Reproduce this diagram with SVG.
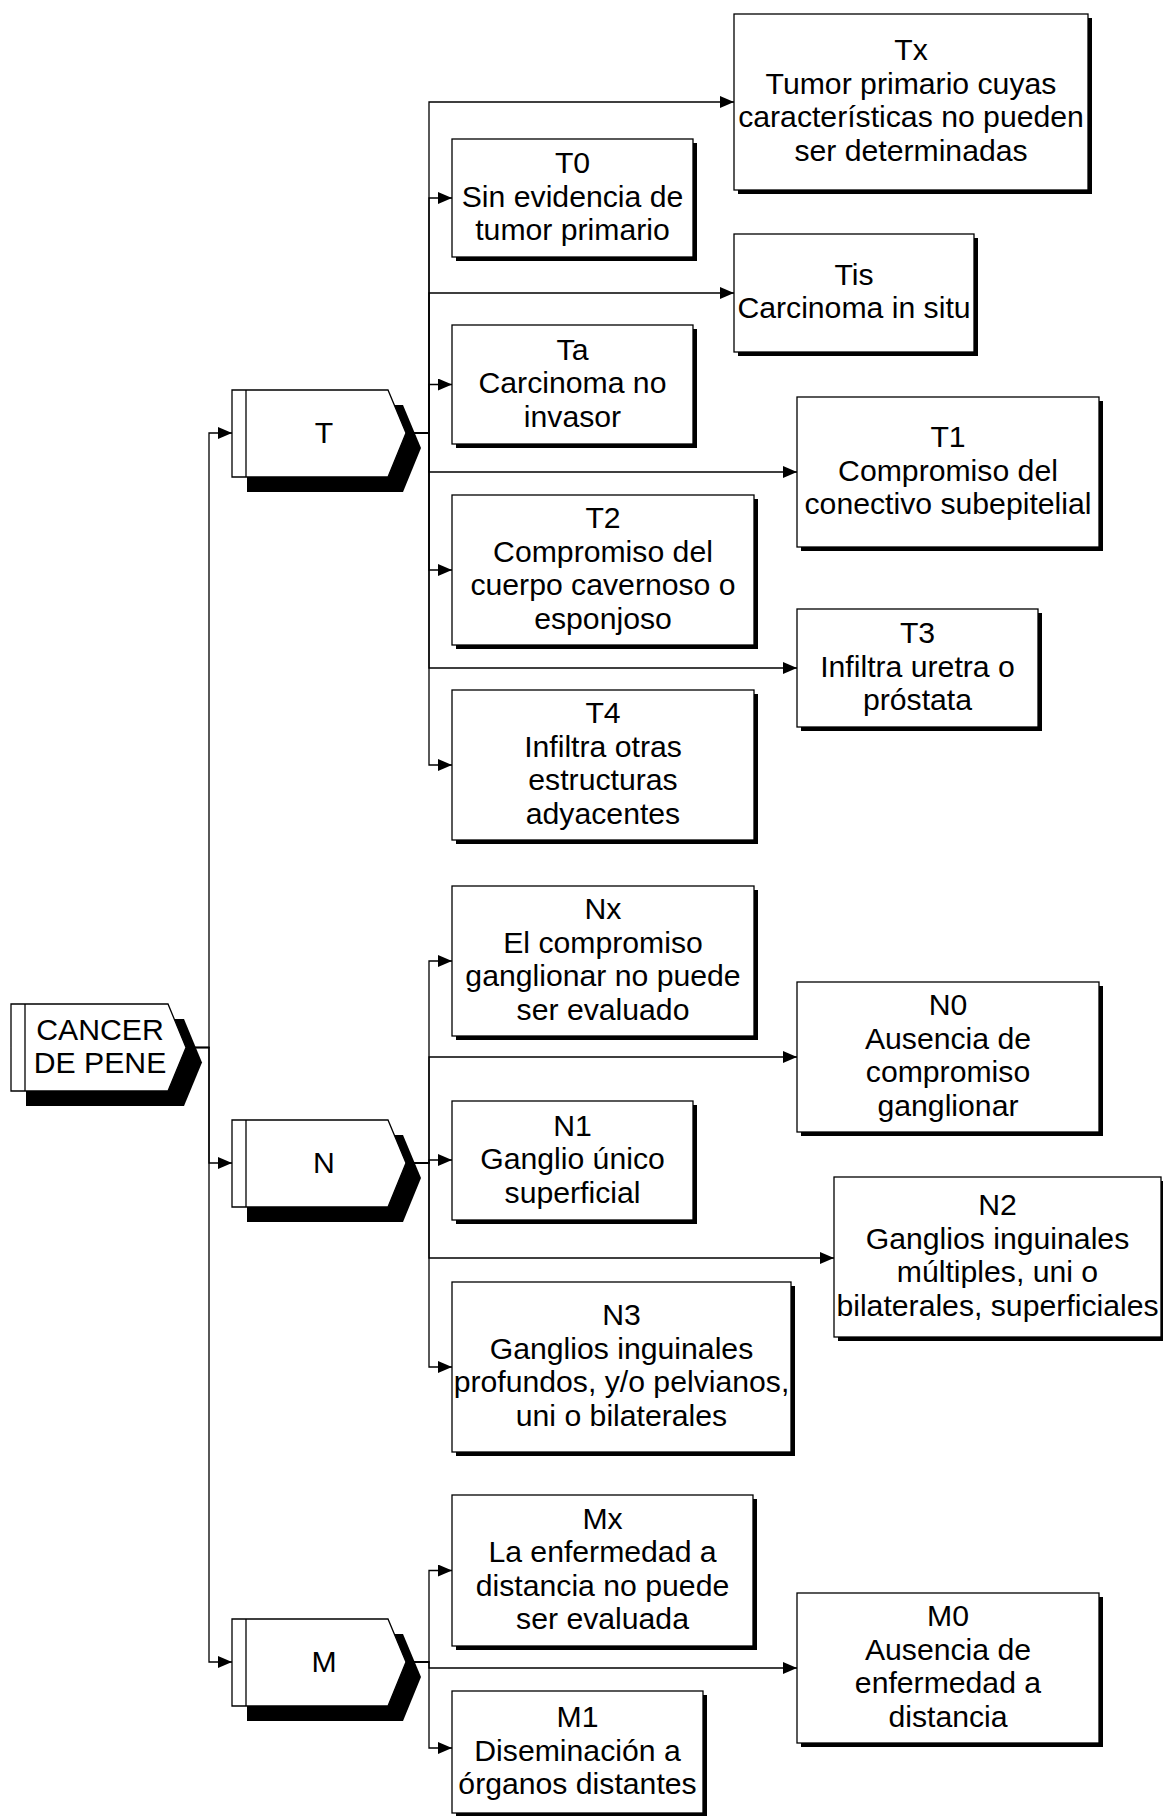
<svg xmlns="http://www.w3.org/2000/svg" width="1163" height="1816" viewBox="0 0 1163 1816">
<style>
.conn{fill:none;stroke:#000;stroke-width:1.3}
.box{fill:#fff;stroke:#000;stroke-width:1.3}
.shadow{fill:#000;stroke:none}
.chev{fill:#fff;stroke:#000;stroke-width:1.3}
.inner{stroke:#000;stroke-width:1.3}
text{font-family:"Liberation Sans",Arial,sans-serif;font-size:30.2px;fill:#000;text-anchor:middle}
</style>
<defs>
<marker id="arr" markerUnits="userSpaceOnUse" markerWidth="15" markerHeight="12" refX="14" refY="6" orient="auto">
<path d="M0,0 L14,6 L0,12 Z" fill="#000"/>
</marker>
</defs>
<rect width="1163" height="1816" fill="#fff"/>
<g id="connectors">
<path class="conn" d="M186,1047.5 H209 V433 H232" marker-end="url(#arr)"/>
<path class="conn" d="M186,1047.5 H209 V1163 H232" marker-end="url(#arr)"/>
<path class="conn" d="M186,1047.5 H209 V1662 H232" marker-end="url(#arr)"/>
<path class="conn" d="M406,433 H429 V102 H734" marker-end="url(#arr)"/>
<path class="conn" d="M406,433 H429 V198 H452" marker-end="url(#arr)"/>
<path class="conn" d="M406,433 H429 V293 H734" marker-end="url(#arr)"/>
<path class="conn" d="M406,433 H429 V384.5 H452" marker-end="url(#arr)"/>
<path class="conn" d="M406,433 H429 V472 H797" marker-end="url(#arr)"/>
<path class="conn" d="M406,433 H429 V570 H452" marker-end="url(#arr)"/>
<path class="conn" d="M406,433 H429 V668 H797" marker-end="url(#arr)"/>
<path class="conn" d="M406,433 H429 V765 H452" marker-end="url(#arr)"/>
<path class="conn" d="M406,1163 H429 V961 H452" marker-end="url(#arr)"/>
<path class="conn" d="M406,1163 H429 V1057 H797" marker-end="url(#arr)"/>
<path class="conn" d="M406,1163 H429 V1160 H452" marker-end="url(#arr)"/>
<path class="conn" d="M406,1163 H429 V1258 H834" marker-end="url(#arr)"/>
<path class="conn" d="M406,1163 H429 V1367 H452" marker-end="url(#arr)"/>
<path class="conn" d="M406,1662 H429 V1570.5 H452" marker-end="url(#arr)"/>
<path class="conn" d="M406,1662 H429 V1668 H797" marker-end="url(#arr)"/>
<path class="conn" d="M406,1662 H429 V1748 H452" marker-end="url(#arr)"/>
</g>
<g id="cancer">
<polygon class="shadow" points="26,1019 184,1019 202,1062.5 184,1106 26,1106"/>
<polygon class="chev" points="11,1004 168,1004 186,1047.5 168,1091 11,1091"/>
<line class="inner" x1="25" y1="1004" x2="25" y2="1091"/>
<text x="100" y="1040">CANCER</text>
<text x="100" y="1073">DE PENE</text>
</g>
<g id="T">
<polygon class="shadow" points="247,405 403,405 421,448 403,492 247,492"/>
<polygon class="chev" points="232,390 388,390 406,433 388,477 232,477"/>
<line class="inner" x1="246" y1="390" x2="246" y2="477"/>
<text x="324" y="443">T</text>
</g>
<g id="N">
<polygon class="shadow" points="247,1135 403,1135 421,1178 403,1222 247,1222"/>
<polygon class="chev" points="232,1120 388,1120 406,1163 388,1207 232,1207"/>
<line class="inner" x1="246" y1="1120" x2="246" y2="1207"/>
<text x="324" y="1173">N</text>
</g>
<g id="M">
<polygon class="shadow" points="247,1634 403,1634 421,1677 403,1721 247,1721"/>
<polygon class="chev" points="232,1619 388,1619 406,1662 388,1706 232,1706"/>
<line class="inner" x1="246" y1="1619" x2="246" y2="1706"/>
<text x="324" y="1672">M</text>
</g>
<g id="Tx">
<rect class="shadow" x="738" y="18" width="354" height="176"/>
<rect class="box" x="734" y="14" width="354" height="176"/>
<text x="911"><tspan x="911" y="60.25">Tx</tspan><tspan x="911" y="93.75">Tumor primario cuyas</tspan><tspan x="911" y="127.25">características no pueden</tspan><tspan x="911" y="160.75">ser determinadas</tspan></text>
</g>
<g id="T0">
<rect class="shadow" x="456" y="143" width="241" height="118"/>
<rect class="box" x="452" y="139" width="241" height="118"/>
<text x="572.5"><tspan x="572.5" y="173">T0</tspan><tspan x="572.5" y="206.5">Sin evidencia de</tspan><tspan x="572.5" y="240">tumor primario</tspan></text>
</g>
<g id="Tis">
<rect class="shadow" x="738" y="238" width="240" height="118"/>
<rect class="box" x="734" y="234" width="240" height="118"/>
<text x="854"><tspan x="854" y="284.75">Tis</tspan><tspan x="854" y="318.25">Carcinoma in situ</tspan></text>
</g>
<g id="Ta">
<rect class="shadow" x="456" y="329" width="241" height="119"/>
<rect class="box" x="452" y="325" width="241" height="119"/>
<text x="572.5"><tspan x="572.5" y="359.5">Ta</tspan><tspan x="572.5" y="393">Carcinoma no</tspan><tspan x="572.5" y="426.5">invasor</tspan></text>
</g>
<g id="T1">
<rect class="shadow" x="801" y="401" width="302" height="150"/>
<rect class="box" x="797" y="397" width="302" height="150"/>
<text x="948"><tspan x="948" y="447">T1</tspan><tspan x="948" y="480.5">Compromiso del</tspan><tspan x="948" y="514">conectivo subepitelial</tspan></text>
</g>
<g id="T2">
<rect class="shadow" x="456" y="499" width="302" height="150"/>
<rect class="box" x="452" y="495" width="302" height="150"/>
<text x="603"><tspan x="603" y="528.25">T2</tspan><tspan x="603" y="561.75">Compromiso del</tspan><tspan x="603" y="595.25">cuerpo cavernoso o</tspan><tspan x="603" y="628.75">esponjoso</tspan></text>
</g>
<g id="T3">
<rect class="shadow" x="801" y="613" width="241" height="118"/>
<rect class="box" x="797" y="609" width="241" height="118"/>
<text x="917.5"><tspan x="917.5" y="643">T3</tspan><tspan x="917.5" y="676.5">Infiltra uretra o</tspan><tspan x="917.5" y="710">próstata</tspan></text>
</g>
<g id="T4">
<rect class="shadow" x="456" y="694" width="302" height="150"/>
<rect class="box" x="452" y="690" width="302" height="150"/>
<text x="603"><tspan x="603" y="723.25">T4</tspan><tspan x="603" y="756.75">Infiltra otras</tspan><tspan x="603" y="790.25">estructuras</tspan><tspan x="603" y="823.75">adyacentes</tspan></text>
</g>
<g id="Nx">
<rect class="shadow" x="456" y="890" width="302" height="150"/>
<rect class="box" x="452" y="886" width="302" height="150"/>
<text x="603"><tspan x="603" y="919.25">Nx</tspan><tspan x="603" y="952.75">El compromiso</tspan><tspan x="603" y="986.25">ganglionar no puede</tspan><tspan x="603" y="1019.75">ser evaluado</tspan></text>
</g>
<g id="N0">
<rect class="shadow" x="801" y="986" width="302" height="150"/>
<rect class="box" x="797" y="982" width="302" height="150"/>
<text x="948"><tspan x="948" y="1015.25">N0</tspan><tspan x="948" y="1048.75">Ausencia de</tspan><tspan x="948" y="1082.25">compromiso</tspan><tspan x="948" y="1115.75">ganglionar</tspan></text>
</g>
<g id="N1">
<rect class="shadow" x="456" y="1105" width="241" height="119"/>
<rect class="box" x="452" y="1101" width="241" height="119"/>
<text x="572.5"><tspan x="572.5" y="1135.5">N1</tspan><tspan x="572.5" y="1169">Ganglio único</tspan><tspan x="572.5" y="1202.5">superficial</tspan></text>
</g>
<g id="N2">
<rect class="shadow" x="838" y="1181" width="327" height="160"/>
<rect class="box" x="834" y="1177" width="327" height="160"/>
<text x="997.5"><tspan x="997.5" y="1215.25">N2</tspan><tspan x="997.5" y="1248.75">Ganglios inguinales</tspan><tspan x="997.5" y="1282.25">múltiples, uni o</tspan><tspan x="997.5" y="1315.75">bilaterales, superficiales</tspan></text>
</g>
<g id="N3">
<rect class="shadow" x="456" y="1286" width="339" height="170"/>
<rect class="box" x="452" y="1282" width="339" height="170"/>
<text x="621.5"><tspan x="621.5" y="1325.25">N3</tspan><tspan x="621.5" y="1358.75">Ganglios inguinales</tspan><tspan x="621.5" y="1392.25">profundos, y/o pelvianos,</tspan><tspan x="621.5" y="1425.75">uni o bilaterales</tspan></text>
</g>
<g id="Mx">
<rect class="shadow" x="456" y="1499" width="301" height="151"/>
<rect class="box" x="452" y="1495" width="301" height="151"/>
<text x="602.5"><tspan x="602.5" y="1528.75">Mx</tspan><tspan x="602.5" y="1562.25">La enfermedad a</tspan><tspan x="602.5" y="1595.75">distancia no puede</tspan><tspan x="602.5" y="1629.25">ser evaluada</tspan></text>
</g>
<g id="M0">
<rect class="shadow" x="801" y="1597" width="302" height="150"/>
<rect class="box" x="797" y="1593" width="302" height="150"/>
<text x="948"><tspan x="948" y="1626.25">M0</tspan><tspan x="948" y="1659.75">Ausencia de</tspan><tspan x="948" y="1693.25">enfermedad a</tspan><tspan x="948" y="1726.75">distancia</tspan></text>
</g>
<g id="M1">
<rect class="shadow" x="456" y="1695" width="251" height="122"/>
<rect class="box" x="452" y="1691" width="251" height="122"/>
<text x="577.5"><tspan x="577.5" y="1727">M1</tspan><tspan x="577.5" y="1760.5">Diseminación a</tspan><tspan x="577.5" y="1794">órganos distantes</tspan></text>
</g>
</svg>
